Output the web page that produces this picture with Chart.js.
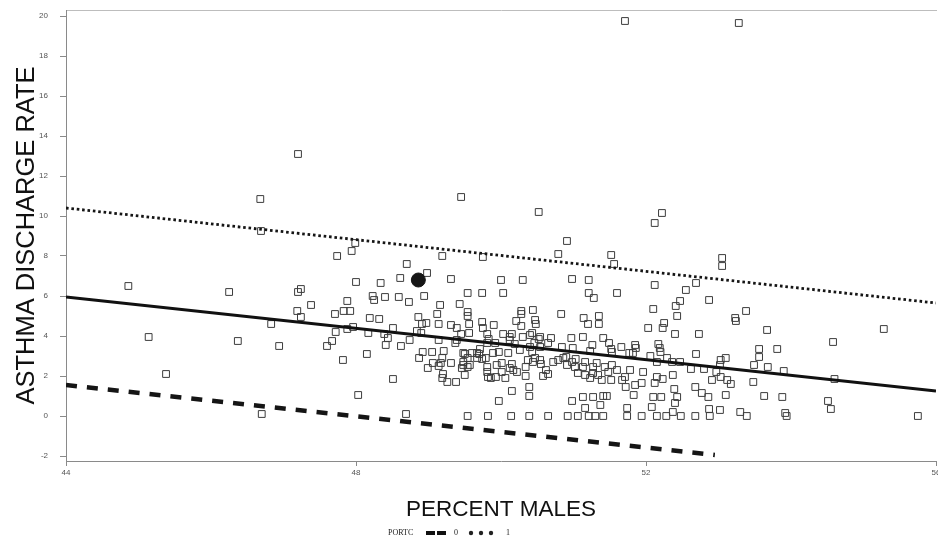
<!DOCTYPE html>
<html>
<head>
<meta charset="utf-8">
<title>Asthma discharge rate by percent males</title>
<script src="https://cdn.jsdelivr.net/npm/chart.js@4/dist/chart.umd.min.js"></script>
<style>
  html, body { margin: 0; padding: 0; background: #ffffff; }
  #wrap { width: 938px; height: 544px; position: relative; }
</style>
</head>
<body>
<div id="wrap"><canvas id="chart"></canvas></div>
<script>
// Axis tick values
const xTicks = [44, 48, 52, 56];
const yTicks = [-2, 0, 2, 4, 6, 8, 10, 12, 14, 16, 18, 20];

// Counties: [percent males, asthma discharge rate]
const countyPoints = [
  [51.71,19.75],[53.28,19.65],[47.2,13.1],[46.68,10.85],[46.69,9.25],[49.45,10.95],[50.52,10.2],[52.22,10.15],
  [52.12,9.65],[50.91,8.75],[50.79,8.1],[51.52,8.05],[51.56,7.6],[53.05,7.9],[53.05,7.5],[47.99,8.65],
  [47.94,8.25],[47.74,8.0],[49.19,8.0],[49.75,7.95],[48.7,7.6],[48.98,7.15],[48.61,6.9],[49.31,6.85],
  [48.0,6.7],[48.34,6.65],[50.0,6.8],[50.3,6.8],[50.98,6.85],[51.21,6.8],[52.69,6.65],[52.55,6.3],
  [52.12,6.55],[44.86,6.5],[46.25,6.2],[47.24,6.35],[47.2,6.2],[49.54,6.15],[49.74,6.15],[50.03,6.15],
  [51.21,6.15],[51.6,6.15],[51.28,5.9],[52.47,5.75],[52.41,5.5],[52.87,5.8],[52.1,5.35],[52.43,5.0],
  [48.23,6.0],[48.4,5.95],[48.59,5.95],[48.94,6.0],[48.25,5.8],[47.88,5.75],[47.38,5.55],[48.73,5.7],
  [49.16,5.55],[49.43,5.6],[47.19,5.25],[47.24,4.95],[47.71,5.1],[47.83,5.25],[47.92,5.25],[49.54,5.2],
  [49.54,5.0],[49.74,4.7],[49.75,4.4],[49.12,5.1],[48.86,4.95],[48.19,4.9],[48.32,4.85],[46.83,4.6],
  [48.97,4.65],[48.91,4.6],[49.14,4.6],[49.31,4.55],[49.39,4.4],[47.96,4.45],[48.51,4.4],[47.88,4.35],
  [47.72,4.2],[48.17,4.15],[48.39,4.1],[48.44,3.9],[48.84,4.25],[48.9,4.15],[49.45,4.1],[49.56,4.15],
  [49.81,4.1],[47.67,3.75],[47.6,3.5],[46.94,3.5],[48.41,3.55],[48.62,3.5],[48.74,3.8],[49.14,3.8],
  [49.39,3.8],[49.37,3.65],[48.15,3.1],[48.92,3.2],[49.05,3.2],[48.87,2.9],[47.82,2.8],[49.21,3.25],
  [49.19,2.9],[49.48,3.15],[49.5,3.1],[49.67,3.15],[49.7,3.1],[49.06,2.65],[48.99,2.4],[49.17,2.65],
  [49.14,2.5],[49.31,2.65],[49.48,2.7],[49.48,2.55],[49.57,2.55],[49.54,2.45],[49.74,2.85],[49.81,2.2],
  [49.2,2.1],[49.19,1.9],[49.26,1.7],[49.38,1.7],[49.5,2.05],[49.82,1.95],[48.51,1.85],[48.03,1.05],
  [46.7,0.1],[48.69,0.1],[49.54,0],[49.82,0],[45.14,3.95],[46.37,3.75],[45.38,2.1],
  [49.54,2.9],[49.6,3.15],[49.67,2.9],[49.46,2.4],[49.56,4.6],[49.83,3.85],[49.81,3.65],[49.92,3.65],
  [50.12,3.8],[50.19,3.6],[49.89,3.15],[49.94,2.55],[50.01,2.65],[49.97,3.2],[50.1,3.15],[49.71,3.35],
  [49.79,2.9],[49.81,2.45],[49.86,1.9],[49.93,1.95],[50.01,2.2],[50.06,1.9],[50.12,2.4],[50.15,2.6],
  [50.17,2.3],[50.22,2.2],[50.34,2.45],[50.34,2.0],[50.26,3.3],[50.4,3.45],[50.43,3.2],[50.47,2.9],
  [50.44,2.7],[50.37,2.8],[50.54,2.8],[50.55,2.6],[50.62,2.3],[50.65,2.1],[50.58,2.0],[50.43,4.15],
  [50.46,3.65],[50.52,3.85],[50.54,3.45],[50.65,3.65],
  [50.28,5.25],[50.28,5.1],[50.44,5.3],[50.47,4.8],[50.48,4.6],[50.83,5.1],[50.21,4.75],[50.28,4.5],
  [50.3,3.95],[51.14,4.9],[51.2,4.6],[51.35,5.0],[51.35,4.6],[52.03,4.4],[52.25,4.65],[52.23,4.4],
  [52.4,4.1],[52.73,4.1],[49.9,4.55],[50.03,4.1],[50.15,4.1],[50.12,3.95],[50.4,4.05],[50.54,3.95],
  [50.69,3.9],[50.97,3.9],[51.13,3.95],[51.41,3.9],[52.17,3.6],[52.19,3.4],[52.2,3.2],[52.69,3.1],
  [51.85,3.55],[51.86,3.4],[51.66,3.45],[51.52,3.35],[51.26,3.55],[52.06,3.0],[52.37,2.05],[52.23,1.85],
  [52.62,2.35],[52.8,2.35],[52.91,1.8],[53.03,1.95],[53.12,1.8],[51.94,1.65],[52.12,1.65],[52.39,1.35],
  [52.68,1.45],[51.83,1.05],[52.1,0.95],[52.21,0.95],[52.43,0.95],[52.77,1.15],[52.86,0.95],[53.1,1.05],
  [49.97,0.75],[50.15,1.25],[50.39,1.0],[50.39,1.45],[50.98,0.75],[51.13,0.95],[51.27,0.95],[51.41,1.0],
  [51.46,1.0],[51.16,0.4],[51.37,0.55],[51.74,0.4],[52.08,0.45],[52.4,0.65],[52.37,0.2],[52.87,0.35],
  [53.02,0.3],
  [50.14,0],[50.39,0],[50.65,0],[50.92,0],[51.06,0],[51.21,0],[51.3,0],[51.41,0],
  [51.74,0],[51.94,0],[52.15,0],[52.28,0],[52.48,0],[52.68,0],[52.88,0],
  [50.72,2.7],[50.79,2.8],[50.86,2.9],[50.9,2.95],[50.91,2.55],[50.98,2.7],[51.03,2.85],[51.02,2.45],
  [51.06,2.15],[51.13,2.45],[51.16,2.7],[51.16,2.05],[51.23,1.9],[51.27,2.15],[51.27,2.45],[51.32,2.65],
  [51.34,2.05],[51.39,1.8],[51.43,2.45],[51.48,2.2],[51.52,1.8],[51.53,2.55],[51.6,2.3],[51.67,1.8],
  [51.71,1.95],[51.78,2.3],[51.72,1.45],[51.85,1.55],[51.96,2.2],[52.15,1.95],[50.84,3.45],[50.99,3.4],
  [51.23,3.25],[51.53,3.2],[51.77,3.15],[51.82,3.15],[52.29,2.9],[52.15,2.7],[52.36,2.7],[52.47,2.7],
  [51.49,3.65],
  [53.38,5.25],[53.23,4.9],[53.24,4.75],[53.67,4.3],[55.28,4.35],[54.58,3.7],[53.56,3.35],[53.56,2.95],
  [53.81,3.35],[53.1,2.9],[53.03,2.8],[53.02,2.55],[53.49,2.55],[53.68,2.45],[53.9,2.25],[52.97,2.2],
  [53.17,1.6],[53.48,1.7],[54.6,1.85],[53.63,1.0],[53.88,0.95],[54.51,0.75],[53.3,0.2],[53.39,0],
  [53.92,0.15],[53.94,0],[54.55,0.35],[55.75,0]
];

// Single highlighted county
const highlightX = [48.86];
const highlightY = [6.8];

// Fitted line and the two PORTC lines
const fitX = [44, 56];
const fitY = [5.95, 1.25];
const portc1X = [44, 56];
const portc1Y = [10.4, 5.65];
const portc0X = [44, 52.95];
const portc0Y = [1.55, -1.95];

const legendTitle = 'PORTC';
const legendLabels = ['0', '1'];

const toXY = (xs, ys) => xs.map((x, i) => ({ x, y: ys[i] }));

const SANS = '"Liberation Sans", Arial, Helvetica, sans-serif';
const SERIF = '"Liberation Serif", "Times New Roman", serif';

// Legend drawn SAS-style on one row under the axis title
const portcLegend = {
  id: 'portcLegend',
  afterDraw(chart) {
    const ctx = chart.ctx;
    const area = chart.chartArea;
    const cx = (area.left + area.right) / 2;
    const y = 533;
    ctx.save();
    ctx.fillStyle = '#222';
    ctx.strokeStyle = '#111';
    ctx.font = '8px ' + SERIF;
    ctx.textBaseline = 'middle';
    ctx.textAlign = 'left';
    ctx.fillText(legendTitle, cx - 113, y);
    ctx.lineWidth = 4;
    ctx.setLineDash([9, 2]);
    ctx.beginPath();
    ctx.moveTo(cx - 75, y);
    ctx.lineTo(cx - 55, y);
    ctx.stroke();
    ctx.setLineDash([]);
    ctx.fillText(legendLabels[0], cx - 47, y);
    for (let i = 0; i < 3; i++) {
      ctx.beginPath();
      ctx.arc(cx - 30 + i * 10, y, 2.2, 0, Math.PI * 2);
      ctx.fill();
    }
    ctx.fillText(legendLabels[1], cx + 5, y);
    ctx.restore();
  }
};

new Chart(document.getElementById('chart'), {
  type: 'scatter',
  data: {
    datasets: [
      {
        type: 'line', label: 'PORTC 1', data: toXY(portc1X, portc1Y),
        borderColor: '#151515', borderWidth: 2.8, borderDash: [2.6, 2.8], borderCapStyle: 'butt',
        pointRadius: 0, fill: false, tension: 0
      },
      {
        type: 'line', label: 'PORTC 0', data: toXY(portc0X, portc0Y),
        borderColor: '#151515', borderWidth: 4.5, borderDash: [11, 10], borderCapStyle: 'butt',
        pointRadius: 0, fill: false, tension: 0
      },
      {
        type: 'line', label: 'Fit', data: toXY(fitX, fitY),
        borderColor: '#111111', borderWidth: 2.8,
        pointRadius: 0, fill: false, tension: 0
      },
      {
        label: 'Highlighted county', data: toXY(highlightX, highlightY),
        pointStyle: 'circle', pointRadius: 7, backgroundColor: '#161616', borderColor: '#161616', borderWidth: 1
      },
      {
        label: 'Counties', data: countyPoints.map(([x, y]) => ({ x, y })),
        pointStyle: 'rect', pointRadius: 4.8, borderWidth: 1,
        borderColor: '#3c3c3c', backgroundColor: 'rgba(0,0,0,0)'
      }
    ]
  },
  options: {
    responsive: true,
    maintainAspectRatio: false,
    animation: false,
    devicePixelRatio: 1,
    layout: { autoPadding: false, padding: { top: 10, right: 2, bottom: 0, left: 0 } },
    plugins: {
      legend: { display: false },
      tooltip: { enabled: false }
    },
    scales: {
      x: {
        type: 'linear', position: 'bottom', min: 44, max: 56,
        afterBuildTicks: s => { s.ticks = xTicks.map(v => ({ value: v })); },
        afterFit: s => { s.height = 83; s.paddingLeft = 0; s.paddingRight = 0; },
        grid: { display: true, drawOnChartArea: false, drawTicks: true, tickLength: 5, color: '#8a8a8a' },
        border: { display: true, color: '#8a8a8a', width: 1 },
        ticks: { font: { family: SANS, size: 8 }, color: '#555', padding: 2, maxRotation: 0, autoSkip: false },
        title: {
          display: true, text: 'PERCENT MALES', color: '#111',
          font: { family: SANS, size: 22.5 }, padding: { top: 0, bottom: 20.5 }
        }
      },
      frameTop: {
        type: 'linear', position: 'top', min: 0, max: 1,
        afterFit: s => { s.height = 0; s.paddingLeft = 0; s.paddingRight = 0; },
        grid: { display: false, drawTicks: false },
        border: { display: true, color: '#bdbdbd', width: 1 },
        ticks: { display: false }
      },
      y: {
        type: 'linear', position: 'left', min: -2.25, max: 20.3,
        afterBuildTicks: s => { s.ticks = yTicks.map(v => ({ value: v })); },
        afterFit: s => { s.width = 66; s.paddingTop = 0; s.paddingBottom = 0; },
        grid: { display: true, drawOnChartArea: false, drawTicks: true, tickLength: 6, color: '#8a8a8a' },
        border: { display: true, color: '#8a8a8a', width: 1 },
        ticks: { font: { family: SANS, size: 8 }, color: '#555', padding: 12, autoSkip: false },
        title: {
          display: true, text: 'ASTHMA DISCHARGE RATE', color: '#111',
          font: { family: SANS, size: 25.5 }, padding: { top: 12, bottom: 0 }
        }
      }
    }
  },
  plugins: [portcLegend]
});
</script>
</body>
</html>
